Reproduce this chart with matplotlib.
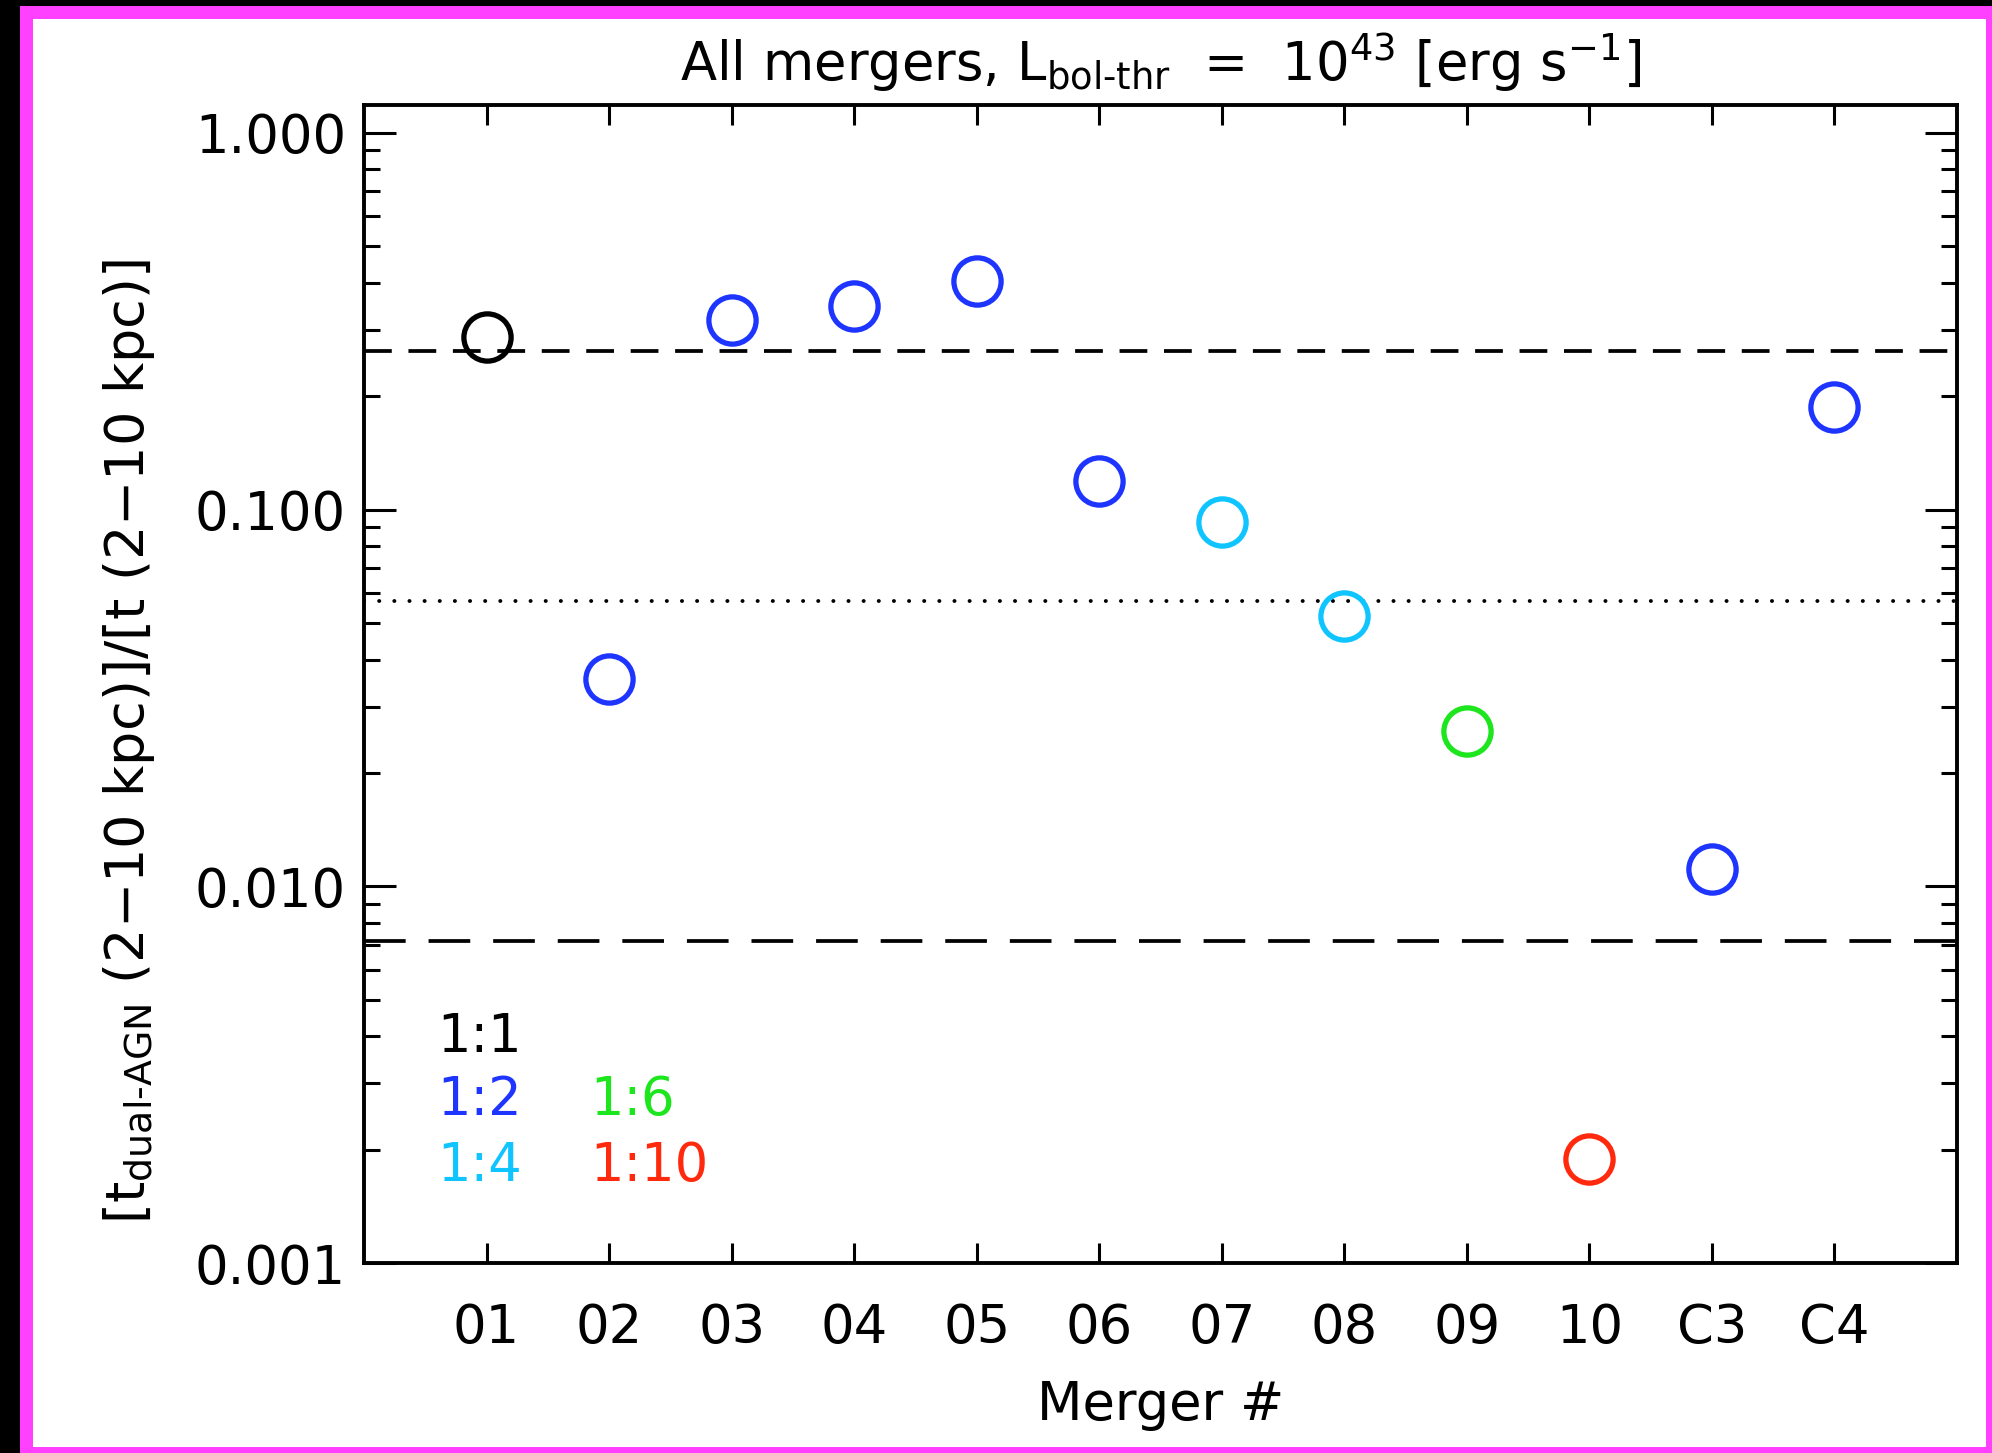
import numpy as np
import matplotlib.pyplot as plt
from matplotlib.patches import Rectangle

plt.rcParams['font.family'] = ['DejaVu Sans']
plt.rcParams['mathtext.default'] = 'regular'
plt.rcParams['lines.scale_dashes'] = False

# Datos
mergers = ['01', '02', '03', '04', '05', '06', '07', '08', '09', '10', 'C3', 'C4']
ratio = [0.287, 0.0354, 0.318, 0.348, 0.404, 0.119, 0.0925, 0.0521, 0.0259, 0.00189, 0.0111, 0.187]
mass_ratio = ['1:1', '1:2', '1:2', '1:2', '1:2', '1:2', '1:4', '1:4', '1:6', '1:10', '1:2', '1:2']

# Lineas horizontales de referencia
line_upper = 0.264
line_mid = 0.0573
line_lower = 0.00716

colores = {'1:1': 'black', '1:2': '#1e34ff', '1:4': '#10c4ff',
           '1:6': '#1ee61e', '1:10': '#ff2a0e'}

fig = plt.figure(figsize=(19.92, 14.53), dpi=100)
fig.patch.set_facecolor('black')
fig.patches.append(Rectangle((20 / 1992, 0), 1, 1 - 6 / 1453, transform=fig.transFigure,
                             facecolor='#ff40ff', edgecolor='none', zorder=-2))
fig.patches.append(Rectangle((33 / 1992, 6 / 1453), (1986 - 33) / 1992, (1447 - 19) / 1453,
                             transform=fig.transFigure, facecolor='white',
                             edgecolor='none', zorder=-1))

ax = fig.add_axes([364 / 1992, 190 / 1453, 1593 / 1992, 1158 / 1453])
ax.set_facecolor('none')

x = np.arange(1, len(mergers) + 1)
for xi, yi, mr in zip(x, ratio, mass_ratio):
    ax.plot(xi, yi, 'o', ms=34, mfc='none', mec=colores[mr], mew=3.8, zorder=3)

ax.axhline(line_upper, color='black', lw=2.7, ls=(0, (20, 12)))
ax.axhline(line_mid, color='black', lw=2.8, ls=(0, (0.1, 10.8)), dash_capstyle='round')
ax.axhline(line_lower, color='black', lw=2.7, ls=(0, (30, 16.5)))

ax.set_yscale('log')
ax.set_ylim(0.001, 1.186)
ax.set_xlim(0, 13)
ax.set_xticks(x)
ax.set_xticklabels(mergers)
ax.set_yticks([0.001, 0.01, 0.1, 1.0])
ax.set_yticklabels(['0.001', '0.010', '0.100', '1.000'])
ax.yaxis.set_minor_locator(plt.matplotlib.ticker.LogLocator(base=10, subs=np.arange(2, 10)))
ax.yaxis.set_minor_formatter(plt.NullFormatter())

ax.tick_params(axis='both', which='both', direction='in', top=True, right=True,
               labelsize=38, width=2.2, color='black')
ax.tick_params(axis='x', which='major', length=14.5, pad=28)
ax.tick_params(axis='x', which='minor', length=0)
ax.tick_params(axis='y', which='major', length=23, pad=13)
ax.tick_params(axis='y', which='minor', length=11.5)
for s in ax.spines.values():
    s.set_linewidth(2.8)

ax.set_title(r'All mergers, L$_{\mathrm{bol\text{-}thr}}$  =  10$^{43}$ [erg s$^{-1}$]',
             fontsize=38, pad=17)
ax.set_xlabel('Merger #', fontsize=38)
ax.set_ylabel(r'[t$_{\mathrm{dual\text{-}AGN}}$ (2$-$10 kpc)]/[t (2$-$10 kpc)]', fontsize=39)
ax.yaxis.set_label_coords(-0.13, 0.45)
ax.xaxis.set_label_coords(0.5, -0.1)

# Leyenda de cocientes de masa
leyenda = [('1:1', 0.046, 0.195), ('1:2', 0.046, 0.141), ('1:4', 0.046, 0.084),
           ('1:6', 0.142, 0.141), ('1:10', 0.142, 0.084)]
for txt, lx, ly in leyenda:
    ax.text(lx, ly, txt, color=colores[txt], fontsize=38, transform=ax.transAxes,
            ha='left', va='center')

fig.savefig('out.png', dpi=100, facecolor=fig.get_facecolor())
